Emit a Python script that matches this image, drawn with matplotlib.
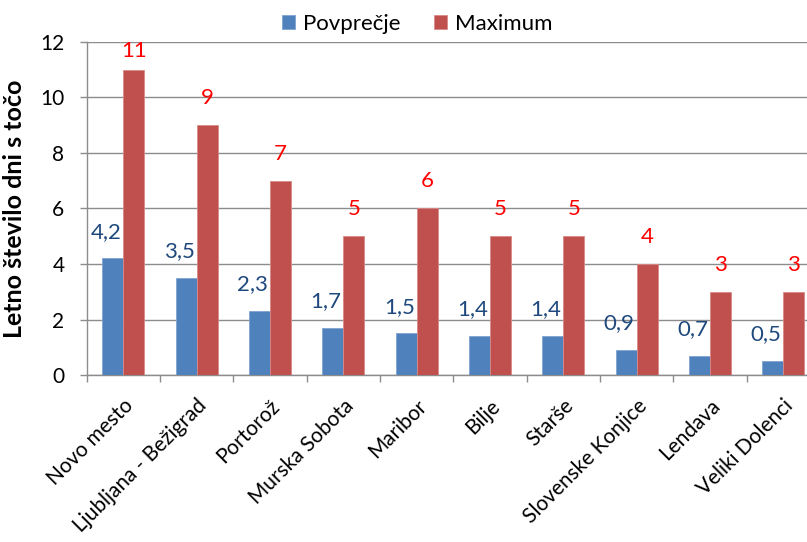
import matplotlib
matplotlib.use("Agg")
import matplotlib.pyplot as plt
import matplotlib.transforms as mtransforms
import numpy as np

plt.rcParams['font.family'] = ['Lato', 'DejaVu Sans']

stations = ["Novo mesto", "Ljubljana - Bežigrad", "Portorož", "Murska Sobota",
            "Maribor", "Bilje", "Starše", "Slovenske Konjice", "Lendava",
            "Veliki Dolenci"]
avg_days = [4.2, 3.5, 2.3, 1.7, 1.5, 1.4, 1.4, 0.9, 0.7, 0.5]
max_days = [11, 9, 7, 5, 6, 5, 5, 4, 3, 3]
yticks = [0, 2, 4, 6, 8, 10, 12]
series_names = ["Povprečje", "Maximum"]
ylabel = "Letno število dni s točo"

BLUE = "#4F81BD"
RED = "#C0504D"
GRID = "#8C8C8C"
FS = 15

fig = plt.figure(figsize=(8.07, 5.42), dpi=100)
ax = fig.add_axes([0.1074, 0.308, 0.9087, 0.615])

x = np.arange(len(stations))
bw = 0.2857  # gap width 150%
b1 = ax.bar(x - bw / 2, avg_days, bw, color=BLUE, edgecolor="#7FA3D0",
            linewidth=0.6, label=series_names[0], zorder=3)
b2 = ax.bar(x + bw / 2, max_days, bw, color=RED, edgecolor="#D98A88",
            linewidth=0.6, label=series_names[1], zorder=3)

ax.set_xlim(-0.5, len(stations) - 0.5)
ax.set_ylim(0, 12)
ax.set_yticks(yticks)
ax.yaxis.grid(True, color=GRID, linewidth=1.0, zorder=0)
ax.set_axisbelow(True)
for s in ("top", "right"):
    ax.spines[s].set_visible(False)
for s in ("left", "bottom"):
    ax.spines[s].set_color(GRID)
    ax.spines[s].set_linewidth(1.0)

ax.tick_params(axis="y", length=5, width=1.0, color=GRID, pad=11,
               labelsize=FS)
# category boundary ticks on the x axis
ax.set_xticks(np.arange(-0.5, len(stations), 1.0), minor=True)
ax.tick_params(axis="x", which="minor", length=5, width=1.0, color=GRID)
ax.set_xticks(x)
ax.set_xticklabels(stations, rotation=45, ha="right", va="center",
                   rotation_mode="anchor", fontsize=15)
ax.tick_params(axis="x", which="major", length=0, pad=20)
shift = mtransforms.ScaledTranslation(5 / 72, 0, fig.dpi_scale_trans)
for lbl in ax.get_xticklabels():
    lbl.set_transform(lbl.get_transform() + shift)

ax.set_ylabel(ylabel, fontsize=18, fontweight="bold", labelpad=10)

# value labels
px = 12.0 / (0.615 * 542)  # data units per pixel on the y axis
for rect, v in zip(b1.patches, avg_days):
    cx = rect.get_x() + rect.get_width() / 2
    ax.annotate(f"{v:.1f}".replace(".", ","), (cx, v), xytext=(-5, 12),
                textcoords="offset points", ha="center", va="bottom",
                fontsize=16, color="#1F497D", zorder=4)
for rect, v in zip(b2.patches, max_days):
    cx = rect.get_x() + rect.get_width() / 2
    ty = min(v + 17 * px, 11.3)
    ax.text(cx, ty, f"{v}", ha="center", va="bottom", fontsize=16,
            color="#FF0000", zorder=4)

fig.legend(handles=[b1, b2], labels=series_names, loc="center",
           bbox_to_anchor=(0.517, 1 - 24 / 542), ncol=2, frameon=False,
           fontsize=16, handlelength=0.6, handleheight=0.6,
           handletextpad=0.35, columnspacing=1.5)

fig.savefig("out.png", dpi=100)
